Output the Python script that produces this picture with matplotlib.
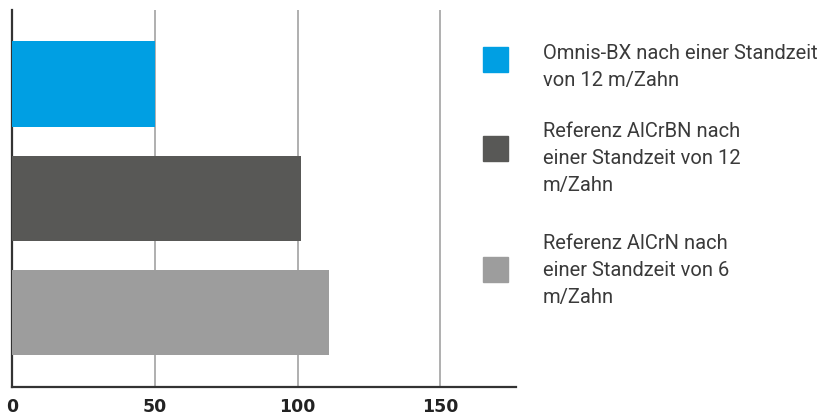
import matplotlib
matplotlib.use('Agg')
import matplotlib.pyplot as plt
from matplotlib.patches import Rectangle

# data
categories = ['Omnis-BX nach einer Standzeit von 12 m/Zahn',
              'Referenz AlCrBN nach einer Standzeit von 12 m/Zahn',
              'Referenz AlCrN nach einer Standzeit von 6 m/Zahn']
values = [50, 101, 111]
colors = ['#009fe3', '#585856', '#9d9d9d']
legend_lines = [['Omnis-BX nach einer Standzeit', 'von 12 m/Zahn'],
                ['Referenz AlCrBN nach', 'einer Standzeit von 12', 'm/Zahn'],
                ['Referenz AlCrN nach', 'einer Standzeit von 6', 'm/Zahn']]
xticks = [0, 50, 100, 150]

W, H = 825, 416
fig = plt.figure(figsize=(W / 100, H / 100), dpi=100)
ax = fig.add_axes([12.3 / W, 1 - 386.7 / H, (515.7 - 12.3) / W, (386.7 - 10) / H])

ypos = list(range(len(values)))
ax.barh(ypos, values, height=0.75, color=colors, zorder=3)
ax.set_ylim(2.65, -0.65)
ax.set_xlim(0, 176.4)

ax.set_yticks([])
ax.set_xticks(xticks)
ax.set_xticklabels([str(t) for t in xticks], fontsize=12.5, fontweight='bold',
                   color='#222222', family='DejaVu Sans')
ax.tick_params(axis='x', length=0, pad=8)

for t in xticks[1:]:
    ax.axvline(t, color='#9a9a9a', lw=1.1, zorder=1)

for s in ['top', 'right']:
    ax.spines[s].set_visible(False)
ax.spines['left'].set_color('#333333')
ax.spines['left'].set_linewidth(1.6)
ax.spines['bottom'].set_color('#333333')
ax.spines['bottom'].set_linewidth(1.6)

# manual legend on the right
sq_tops = [47, 136, 257]
first_baselines = [59, 137, 249]
for lines, col, top, base in zip(legend_lines, colors, sq_tops, first_baselines):
    fig.patches.append(Rectangle((483 / W, 1 - (top + 25) / H), 25 / W, 25 / H,
                                 transform=fig.transFigure, color=col))
    for i, line in enumerate(lines):
        fig.text(543 / W, 1 - (base + 27 * i) / H, line, fontsize=14.5,
                 family='Roboto', color='#3a3a3a', va='baseline', ha='left')

fig.savefig('out.png', dpi=100)
